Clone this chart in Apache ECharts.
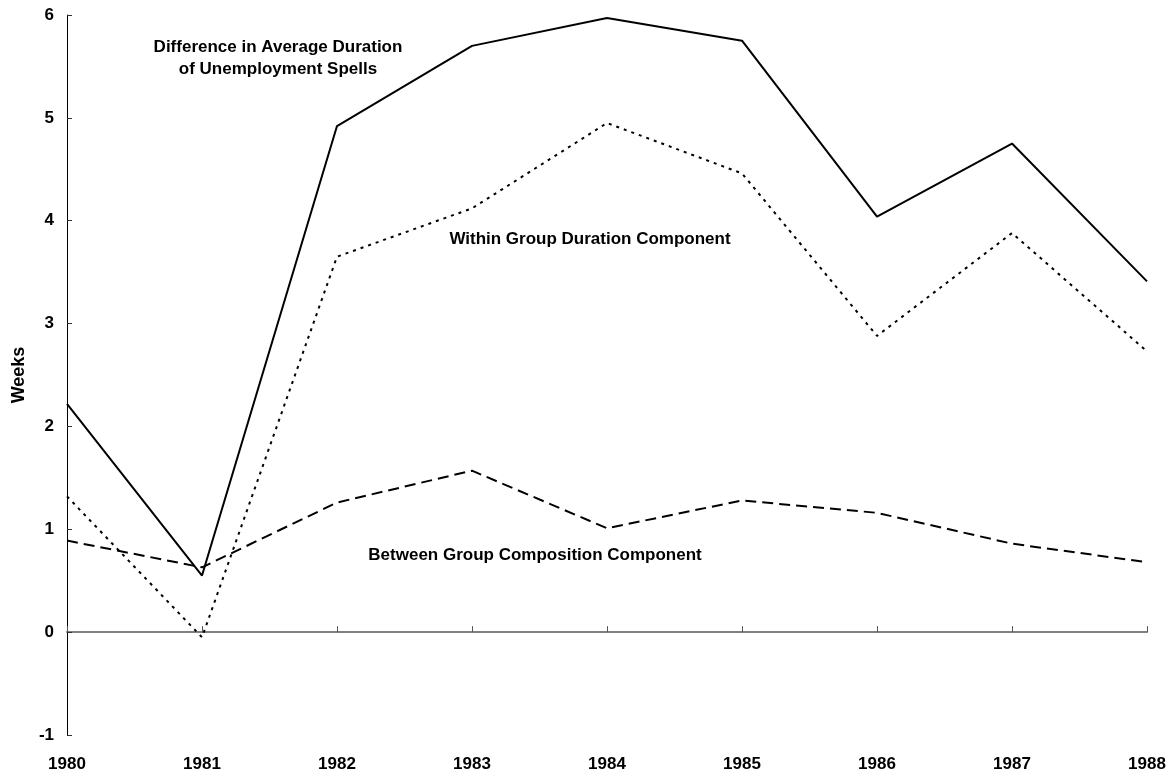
<!DOCTYPE html>
<html>
<head>
<meta charset="utf-8">
<script src="https://cdn.jsdelivr.net/npm/echarts@6/dist/echarts.min.js"></script>
<style>
html,body{margin:0;padding:0;background:#fff;}
#chart{width:1174px;height:778px;}
</style>
</head>
<body>
<div id="chart"></div>
<script>
var years = ['1980','1981','1982','1983','1984','1985','1986','1987','1988'];
var totalDiff = [2.22, 0.55, 4.92, 5.70, 5.97, 5.75, 4.04, 4.75, 3.41];
var withinGroup = [1.32, -0.05, 3.65, 4.12, 4.95, 4.46, 2.88, 3.88, 2.73];
var betweenGroup = [0.89, 0.63, 1.26, 1.57, 1.01, 1.28, 1.16, 0.86, 0.68];
var yTicks = {min: -1, max: 6, interval: 1};
var labels = {
  total: 'Difference in Average Duration\nof Unemployment Spells',
  within: 'Within Group Duration Component',
  between: 'Between Group Composition Component'
};

var FONT = '"Liberation Sans", Arial, sans-serif';
var chart = echarts.init(document.getElementById('chart'), null, {renderer: 'canvas'});
var annStyle = function (t) {
  return {text: t, fill: '#000', font: 'bold 17px ' + FONT, textAlign: 'center', textVerticalAlign: 'middle', lineHeight: 22};
};
chart.setOption({
  animation: false,
  backgroundColor: '#fff',
  grid: {left: 67, right: 27, top: 15, bottom: 43, containLabel: false},
  xAxis: [
    {
      type: 'category', data: years, boundaryGap: false, position: 'bottom',
      axisLine: {show: false, onZero: false}, axisTick: {show: false},
      axisLabel: {color: '#000', fontFamily: FONT, fontWeight: 'bold', fontSize: 17, margin: 21},
      splitLine: {show: false}
    },
    {
      type: 'category', data: years, boundaryGap: false, position: 'bottom',
      axisLine: {show: true, onZero: true, lineStyle: {color: '#808080', width: 2}},
      axisTick: {show: true, inside: true, length: 6, lineStyle: {color: '#555', width: 1}},
      axisLabel: {show: false}, splitLine: {show: false}
    }
  ],
  yAxis: {
    type: 'value', min: yTicks.min, max: yTicks.max, interval: yTicks.interval,
    name: 'Weeks', nameLocation: 'middle', nameRotate: 90, nameGap: 39,
    nameTextStyle: {color: '#000', fontFamily: FONT, fontWeight: 'bold', fontSize: 18},
    axisLine: {show: true, onZero: false, lineStyle: {color: '#000', width: 1}},
    axisTick: {show: true, inside: true, length: 5, lineStyle: {color: '#333'}},
    axisLabel: {color: '#000', fontFamily: FONT, fontWeight: 'bold', fontSize: 17, margin: 13},
    splitLine: {show: false}
  },
  series: [
    {type: 'line', name: 'total', data: totalDiff, xAxisIndex: 0, symbol: 'none',
     lineStyle: {color: '#000', width: 2, type: 'solid'}},
    {type: 'line', name: 'within', data: withinGroup, xAxisIndex: 0, symbol: 'none',
     lineStyle: {color: '#000', width: 2, type: [3, 5]}},
    {type: 'line', name: 'between', data: betweenGroup, xAxisIndex: 0, symbol: 'none',
     lineStyle: {color: '#000', width: 2, type: [11, 6]}}
  ],
  graphic: [
    {type: 'text', x: 278, y: 58, style: annStyle(labels.total)},
    {type: 'text', x: 590, y: 239, style: annStyle(labels.within)},
    {type: 'text', x: 535, y: 555, style: annStyle(labels.between)}
  ]
});
</script>
</body>
</html>
